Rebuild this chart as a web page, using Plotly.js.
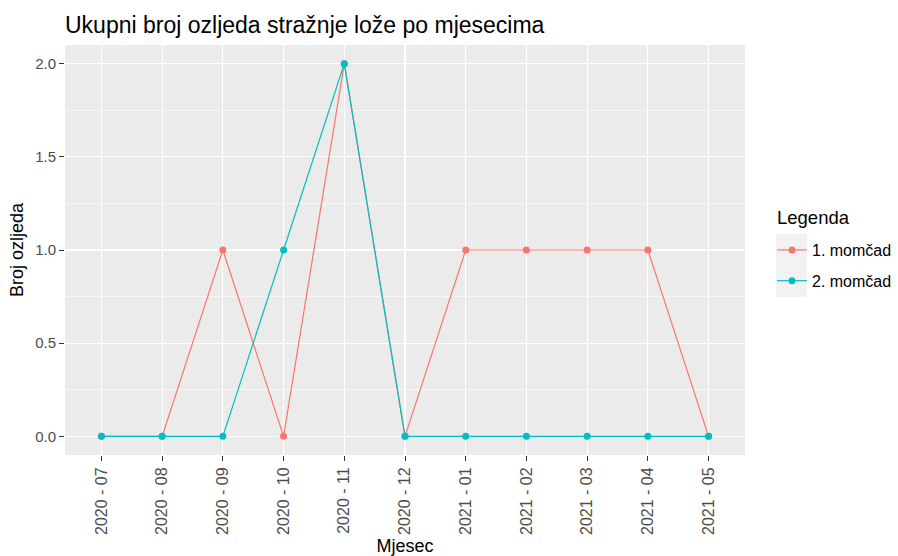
<!DOCTYPE html>
<html><head><meta charset="utf-8">
<script src="https://cdn.plot.ly/plotly-3.0.1.min.js"></script>
<style>body{margin:0;background:#fff}#c{width:898px;height:556px}</style>
</head><body><div id="c"></div>
<script>
const months = ["2020 - 07","2020 - 08","2020 - 09","2020 - 10","2020 - 11","2020 - 12","2021 - 01","2021 - 02","2021 - 03","2021 - 04","2021 - 05"];
const team1 = [0,0,1,0,2,0,1,1,1,1,0];
const team2 = [0,0,0,1,2,0,0,0,0,0,0];
const seriesNames = ["1. momčad","2. momčad"];
const legendTitle = "Legenda";

const fontFam = "Liberation Sans, Arial, sans-serif";
const traces = [
  {x: months, y: team1, name: seriesNames[0], legendgroup:'a', type:'scatter', mode:'lines+markers',
   line:{color:'#F8766D', width:1.2}, marker:{color:'#F8766D', size:7}},
  {x: months, y: team2, name: seriesNames[1], legendgroup:'b', type:'scatter', mode:'lines+markers',
   line:{color:'#00BFC4', width:1.2}, marker:{color:'#00BFC4', size:7}}
];
const layout = {
  width: 898, height: 556,
  margin: {l:65, r:153, t:45, b:101},
  paper_bgcolor:'#ffffff', plot_bgcolor:'#EBEBEB',
  font: {family: fontFam, color:'#4D4D4D', size:15},
  title: {text:'Ukupni broj ozljeda stražnje lože po mjesecima', x:0, xref:'paper', xanchor:'left', y:0.955, yanchor:'middle',
          font:{size:23, color:'#000000', family: fontFam}},
  xaxis: {type:'category', range:[-0.6, 10.6], showgrid:true, gridcolor:'#ffffff', gridwidth:1.2,
          zeroline:false, ticks:'outside', ticklen:5, tickcolor:'#333333', tickangle:-90,
          tickfont:{size:16, color:'#4D4D4D'},
          title:{text:'Mjesec', font:{size:18, color:'#000000'}, standoff:10}},
  yaxis: {range:[-0.1, 2.1], tickvals:[0,0.5,1,1.5,2], ticktext:['0.0','0.5','1.0','1.5','2.0'],
          showgrid:true, gridcolor:'#ffffff', gridwidth:1.2, zeroline:false,
          ticks:'outside', ticklen:5, tickcolor:'#333333', tickfont:{size:15, color:'#4D4D4D'},
          minor:{tickvals:[0.25,0.75,1.25,1.75], showgrid:true, gridcolor:'#ffffff', gridwidth:0.6, ticks:''},
          title:{text:'Broj ozljeda', font:{size:18, color:'#000000'}, standoff:6}},
  showlegend:true,
  legend: {xref:'container', yref:'container', x:772/898, xanchor:'left', y:1-233/556, yanchor:'top', bgcolor:'rgba(0,0,0,0)',
           font:{size:16, color:'#000000'}, tracegroupgap:7, itemwidth:30},
  annotations: [
    {text: legendTitle, xref:'paper', yref:'paper', x:(775-65)/680, y:(455-217)/410, xanchor:'left', yanchor:'middle',
     showarrow:false, font:{size:18.5, color:'#000000'}}
  ],
  shapes: [
    {type:'rect', xref:'paper', yref:'paper', x0:(776-65)/680, x1:(807-65)/680, y0:(455-297)/410, y1:(455-234)/410,
     fillcolor:'#F2F2F2', line:{width:0}, layer:'below'}
  ]
};
Plotly.newPlot('c', traces, layout, {displayModeBar:false, staticPlot:true});
</script></body></html>
